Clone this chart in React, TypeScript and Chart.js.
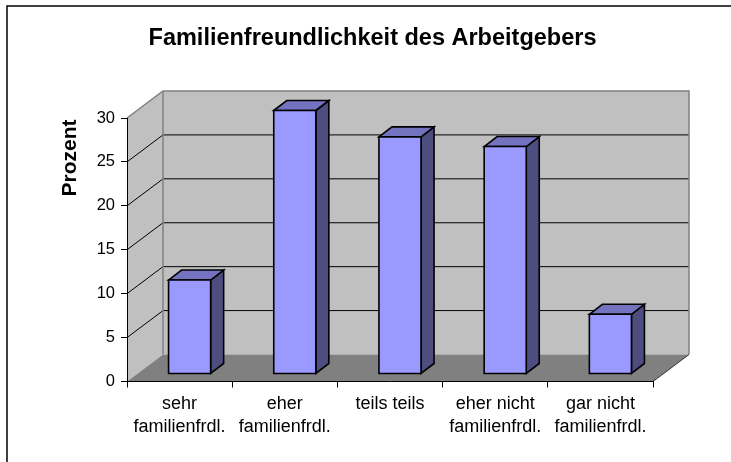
import React, { useEffect, useRef } from "react";
import { Chart, registerables } from "chart.js";

Chart.register(...registerables);

const titleText = "Familienfreundlichkeit des Arbeitgebers";
const yAxisTitle = "Prozent";
const categories: string[][] = [
  ["sehr", "familienfrdl."],
  ["eher", "familienfrdl."],
  ["teils teils"],
  ["eher nicht", "familienfrdl."],
  ["gar nicht", "familienfrdl."],
];
const values: number[] = [10.7, 30.0, 27.0, 25.9, 6.8];
const yMin = 0;
const yMax = 30;
const yStep = 5;

const FONT = "'Liberation Sans', Arial, Helvetica, sans-serif";

// 3D geometry (depth of the plot box and of the bars)
const DX = 36;
const DY = -27;
const BAR_OFF_X = 10;
const BAR_OFF_Y = -7.5;
const BAR_DX = 13;
const BAR_DY = -10;

const wallPlugin = {
  id: "walls3d",
  beforeDraw(chart: any) {
    const { ctx, chartArea, scales } = chart;
    const { left, right, top, bottom } = chartArea;
    const y = scales.y;
    ctx.save();
    // outer frame
    ctx.strokeStyle = "#000";
    ctx.lineWidth = 1.5;
    ctx.strokeRect(7, 6, 900, 700);

    // title
    ctx.fillStyle = "#000";
    ctx.font = `bold 23.5px ${FONT}`;
    ctx.textAlign = "center";
    ctx.textBaseline = "alphabetic";
    ctx.fillText(titleText, 372.5, 45);

    // y axis title
    ctx.save();
    ctx.translate(76, 158);
    ctx.rotate(-Math.PI / 2);
    ctx.font = `bold 21px ${FONT}`;
    ctx.textAlign = "center";
    ctx.fillText(yAxisTitle, 0, 0);
    ctx.restore();

    // side wall
    ctx.fillStyle = "#C0C0C0";
    ctx.beginPath();
    ctx.moveTo(left, top);
    ctx.lineTo(left + DX, top + DY);
    ctx.lineTo(left + DX, bottom + DY);
    ctx.lineTo(left, bottom);
    ctx.closePath();
    ctx.fill();
    // back wall
    ctx.fillRect(left + DX, top + DY, right - left, bottom - top);
    // floor
    ctx.fillStyle = "#808080";
    ctx.beginPath();
    ctx.moveTo(left, bottom);
    ctx.lineTo(right, bottom);
    ctx.lineTo(right + DX, bottom + DY);
    ctx.lineTo(left + DX, bottom + DY);
    ctx.closePath();
    ctx.fill();

    // gridlines
    ctx.strokeStyle = "#000";
    ctx.lineWidth = 1;
    for (let v = yMin + yStep; v < yMax; v += yStep) {
      const py = y.getPixelForValue(v);
      ctx.beginPath();
      ctx.moveTo(left, py);
      ctx.lineTo(left + DX, py + DY);
      ctx.lineTo(right + DX, py + DY);
      ctx.stroke();
    }
    // wall borders
    ctx.strokeStyle = "#808080";
    ctx.lineWidth = 1.5;
    ctx.beginPath();
    ctx.moveTo(left, top);
    ctx.lineTo(left + DX, top + DY);
    ctx.lineTo(right + DX, top + DY);
    ctx.lineTo(right + DX, bottom + DY);
    ctx.moveTo(left + DX, top + DY);
    ctx.lineTo(left + DX, bottom + DY);
    ctx.stroke();
    // floor right edge
    ctx.strokeStyle = "#333";
    ctx.lineWidth = 1;
    ctx.beginPath();
    ctx.moveTo(right, bottom);
    ctx.lineTo(right + DX, bottom + DY);
    ctx.stroke();
    ctx.restore();
  },
  afterDatasetsDraw(chart: any) {
    const { ctx } = chart;
    const meta = chart.getDatasetMeta(0);
    ctx.save();
    ctx.strokeStyle = "#000";
    ctx.lineWidth = 1.6;
    ctx.lineJoin = "miter";
    meta.data.forEach((el: any) => {
      const { x, y, base, width } = el.getProps(["x", "y", "base", "width"], true);
      const l = x - width / 2 + BAR_OFF_X;
      const r = x + width / 2 + BAR_OFF_X;
      const t = y + BAR_OFF_Y;
      const b = base + BAR_OFF_Y;
      // side
      ctx.fillStyle = "#4D4D80";
      ctx.beginPath();
      ctx.moveTo(r, t);
      ctx.lineTo(r + BAR_DX, t + BAR_DY);
      ctx.lineTo(r + BAR_DX, b + BAR_DY);
      ctx.lineTo(r, b);
      ctx.closePath();
      ctx.fill();
      ctx.stroke();
      // top
      ctx.fillStyle = "#7373BF";
      ctx.beginPath();
      ctx.moveTo(l, t);
      ctx.lineTo(l + BAR_DX, t + BAR_DY);
      ctx.lineTo(r + BAR_DX, t + BAR_DY);
      ctx.lineTo(r, t);
      ctx.closePath();
      ctx.fill();
      ctx.stroke();
      // front
      ctx.fillStyle = "#9999FF";
      ctx.beginPath();
      ctx.rect(l, t, r - l, b - t);
      ctx.fill();
      ctx.stroke();
    });
    ctx.restore();
  },
};

export default function App() {
  const ref = useRef<HTMLCanvasElement | null>(null);
  useEffect(() => {
    if (!ref.current) return;
    const chart = new Chart(ref.current, {
      type: "bar",
      data: {
        labels: categories,
        datasets: [
          {
            data: values,
            backgroundColor: "rgba(0,0,0,0)",
            borderWidth: 0,
            barPercentage: 0.4,
            categoryPercentage: 1,
          },
        ],
      },
      options: {
        animation: false,
        responsive: true,
        maintainAspectRatio: false,
        events: [],
        layout: { padding: { top: 118, right: 78, bottom: 0, left: 0 } },
        plugins: {
          legend: { display: false },
          title: { display: false },
          tooltip: { enabled: false },
        },
        scales: {
          x: {
            grid: {
              drawOnChartArea: false,
              drawTicks: true,
              tickLength: 6,
              color: "#000",
              offset: true,
            },
            border: { display: true, color: "#000", width: 1 },
            ticks: {
              color: "#000",
              padding: 5,
              maxRotation: 0,
              minRotation: 0,
              autoSkip: false,
              font: { family: FONT, size: 18, lineHeight: 1.28 },
            },
            afterFit: (s: any) => {
              s.height = 80.5;
            },
          },
          y: {
            min: yMin,
            max: yMax,
            grid: {
              drawOnChartArea: false,
              drawTicks: true,
              tickLength: 6,
              color: "#000",
            },
            border: { display: true, color: "#000", width: 1 },
            ticks: {
              stepSize: yStep,
              color: "#000",
              padding: 6,
              font: { family: FONT, size: 16.5 },
            },
            afterFit: (s: any) => {
              s.width = 127;
            },
          },
        },
      },
      plugins: [wallPlugin],
    });
    return () => chart.destroy();
  }, []);
  return (
    <div style={{ position: "fixed", left: 0, top: 0, width: 731, height: 462 }}>
      <canvas ref={ref} />
    </div>
  );
}
